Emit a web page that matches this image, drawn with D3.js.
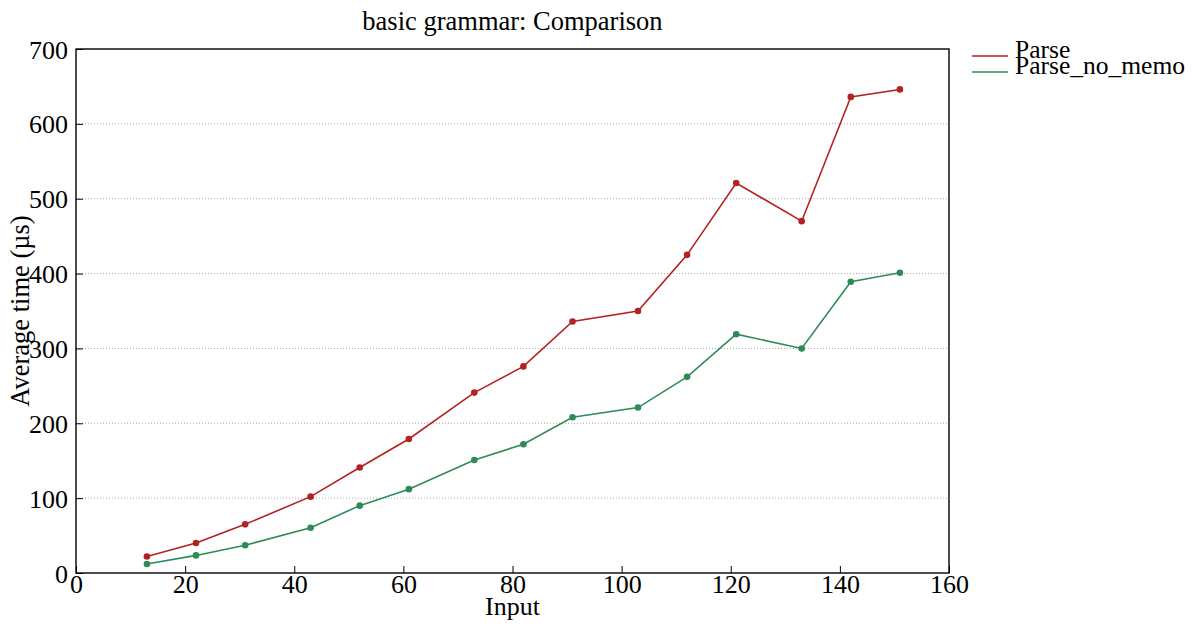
<!DOCTYPE html>
<html>
<head>
<meta charset="utf-8">
<script src="https://cdn.jsdelivr.net/npm/d3@7"></script>
<style>
  html, body { margin: 0; padding: 0; background: #fff; }
  svg { display: block; }
  text { font-family: "Liberation Serif", "DejaVu Serif", serif; fill: #000; }
</style>
</head>
<body>
<svg id="chart" width="1204" height="626"></svg>
<script>
// Input sizes and average parse times (µs)
const inputs = [13, 22, 31, 43, 52, 61, 73, 82, 91, 103, 112, 121, 133, 142, 151];
const parseTimes = [22, 40, 65, 102, 141, 179, 241, 276, 336, 350, 425, 521, 470, 636, 646];
const parseNoMemoTimes = [12, 23.5, 37, 60.5, 90, 112, 151, 172, 208, 221, 262, 319, 300, 389, 401];
const seriesNames = ["Parse", "Parse_no_memo"];
const seriesColors = ["#b22222", "#2e8b57"];
const xTicks = [0, 20, 40, 60, 80, 100, 120, 140, 160];
const yTicks = [0, 100, 200, 300, 400, 500, 600, 700];

const series = [parseTimes, parseNoMemoTimes].map((vals, i) => ({
  name: seriesNames[i],
  color: seriesColors[i],
  points: inputs.map((x, j) => ({ x, y: vals[j] }))
}));

const svg = d3.select("#chart");
const margin = { left: 76, right: 255, top: 49, bottom: 53 };
const W = 1204, H = 626;
const x = d3.scaleLinear().domain([0, 160]).range([margin.left, W - margin.right]);
const y = d3.scaleLinear().domain([0, 700]).range([H - margin.bottom, margin.top]);

const fontSize = 26;

// dotted horizontal grid
svg.append("g")
  .selectAll("line")
  .data(yTicks.filter(t => t > 0 && t < 700))
  .join("line")
  .attr("x1", x(0)).attr("x2", x(160))
  .attr("y1", d => y(d)).attr("y2", d => y(d))
  .attr("stroke", "#aaa")
  .attr("stroke-width", 1)
  .attr("stroke-dasharray", "1,2");

// bottom axis with inward ticks
const xAxis = svg.append("g")
  .attr("transform", `translate(0,${y(0)})`)
  .call(d3.axisBottom(x).tickValues(xTicks).tickSizeInner(-7).tickSizeOuter(0).tickPadding(10));
xAxis.select(".domain").remove();
xAxis.selectAll(".tick line").attr("stroke", "#000").attr("stroke-width", 1);
xAxis.selectAll(".tick text")
  .attr("font-size", fontSize)
  .attr("font-family", "Liberation Serif, serif")
  .attr("dy", "0.72em")
  .attr("y", 1);

// left axis with inward ticks
const yAxis = svg.append("g")
  .attr("transform", `translate(${x(0)},0)`)
  .call(d3.axisLeft(y).tickValues(yTicks).tickSizeInner(-7).tickSizeOuter(0).tickPadding(8));
yAxis.select(".domain").remove();
yAxis.selectAll(".tick line").attr("stroke", "#000").attr("stroke-width", 1);
yAxis.selectAll(".tick text")
  .attr("font-size", fontSize)
  .attr("font-family", "Liberation Serif, serif")
  .attr("x", -8)
  .attr("dy", "0.35em");

// frame
svg.append("rect")
  .attr("x", x(0)).attr("y", y(700))
  .attr("width", x(160) - x(0)).attr("height", y(0) - y(700))
  .attr("fill", "none")
  .attr("stroke", "#000")
  .attr("stroke-width", 1.4);

// series lines and markers
const line = d3.line().x(d => x(d.x)).y(d => y(d.y));
series.forEach(s => {
  svg.append("path")
    .datum(s.points)
    .attr("d", line)
    .attr("fill", "none")
    .attr("stroke", s.color)
    .attr("stroke-width", 1.6);
  svg.append("g")
    .selectAll("circle")
    .data(s.points)
    .join("circle")
    .attr("cx", d => x(d.x))
    .attr("cy", d => y(d.y))
    .attr("r", 3.3)
    .attr("fill", s.color);
});

// title
svg.append("text")
  .attr("x", (x(0) + x(160)) / 2)
  .attr("y", 30)
  .attr("text-anchor", "middle")
  .attr("font-size", 26.5)
  .text("basic grammar: Comparison");

// axis labels
svg.append("text")
  .attr("x", (x(0) + x(160)) / 2)
  .attr("y", 615)
  .attr("text-anchor", "middle")
  .attr("font-size", fontSize)
  .text("Input");

svg.append("text")
  .attr("transform", `translate(29,${(y(0) + y(700)) / 2}) rotate(-90)`)
  .attr("text-anchor", "middle")
  .attr("font-size", 26.5)
  .text("Average time (µs)");

// legend
const legend = svg.append("g");
series.forEach((s, i) => {
  const ly = 56 + i * 16;
  legend.append("line")
    .attr("x1", 972).attr("x2", 1008)
    .attr("y1", ly).attr("y2", ly)
    .attr("stroke", s.color)
    .attr("stroke-width", 1.6);
  legend.append("text")
    .attr("x", 1015)
    .attr("y", ly + 2)
    .attr("font-size", 25.5)
    .text(s.name);
});
</script>
</body>
</html>
